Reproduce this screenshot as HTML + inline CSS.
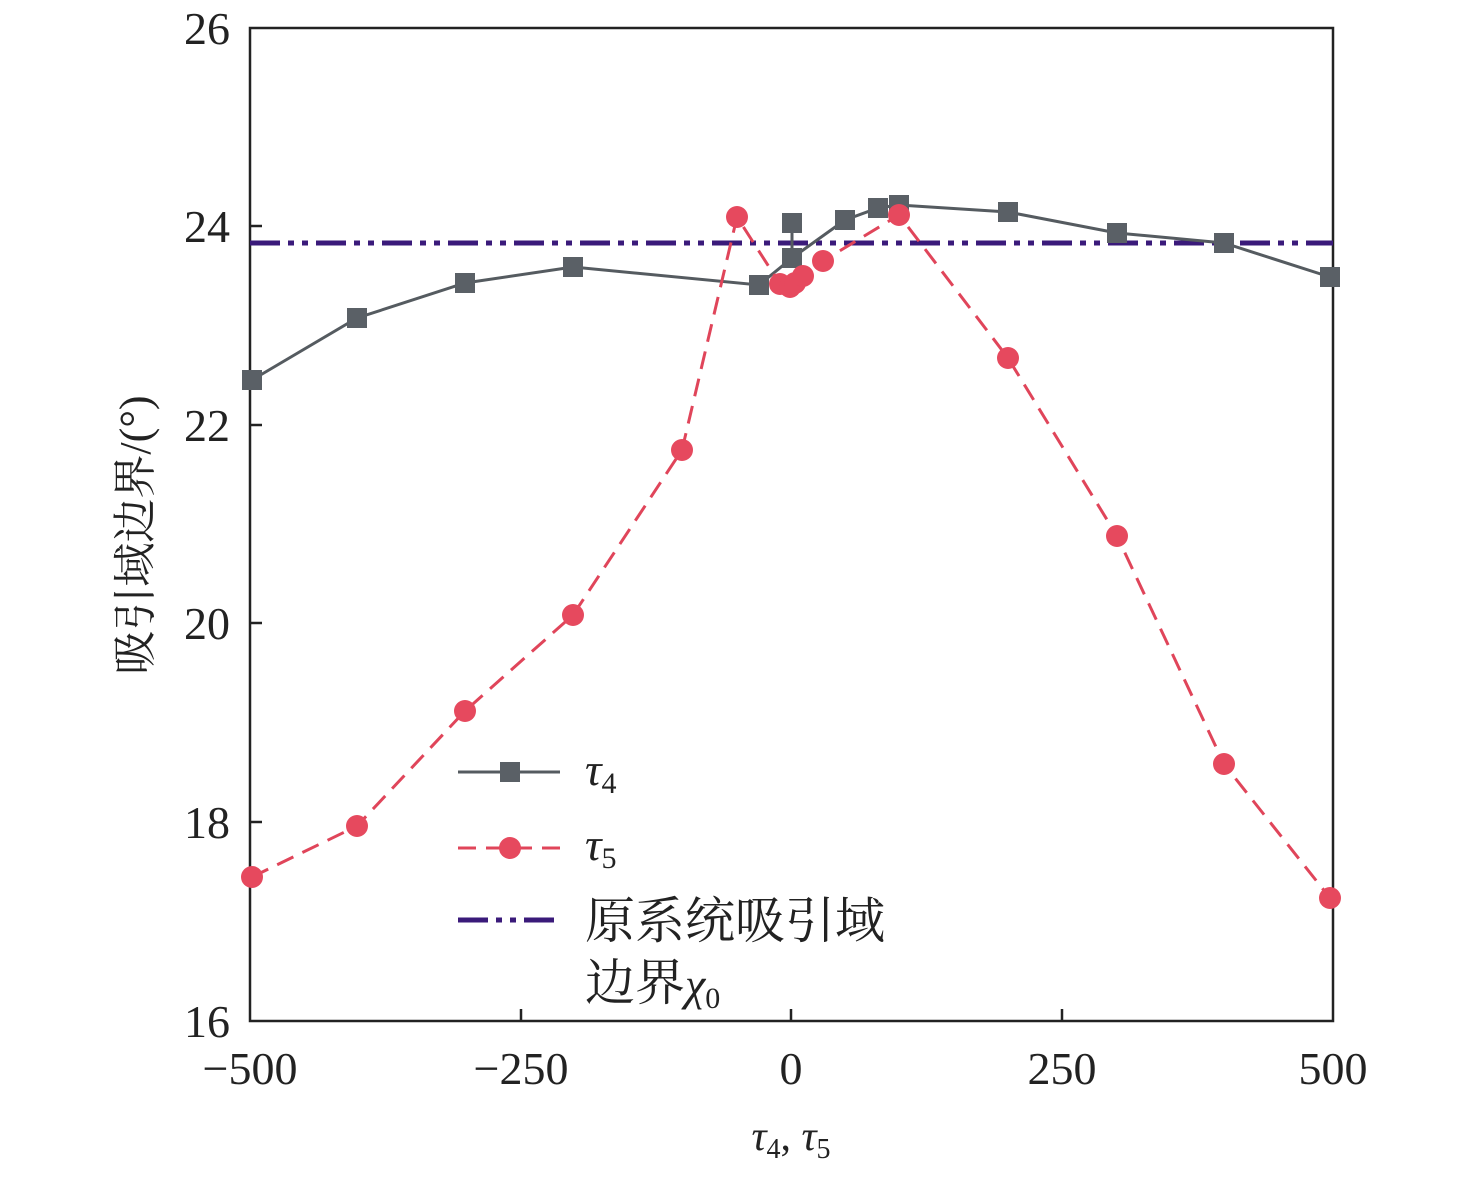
<!DOCTYPE html>
<html><head><meta charset="utf-8"><style>body{margin:0;background:#fff}</style></head><body>
<svg width="1476" height="1174" xmlns="http://www.w3.org/2000/svg" style="font-family:'Liberation Serif','Noto Serif CJK SC',serif">
<rect x="250" y="28" width="1083" height="993" fill="none" stroke="#222" stroke-width="2.5"/>
<g stroke="#222" stroke-width="2.5">
<line x1="521" y1="1021" x2="521" y2="1009"/><line x1="791" y1="1021" x2="791" y2="1009"/><line x1="1062" y1="1021" x2="1062" y2="1009"/>
<line x1="250" y1="226" x2="262" y2="226"/><line x1="250" y1="425" x2="262" y2="425"/><line x1="250" y1="623" x2="262" y2="623"/><line x1="250" y1="822" x2="262" y2="822"/>
</g>
<g font-size="46" fill="#222" text-anchor="end">
<text x="230" y="44">26</text><text x="230" y="242">24</text><text x="230" y="441">22</text><text x="230" y="639">20</text><text x="230" y="838">18</text><text x="230" y="1037">16</text>
</g>
<g font-size="46" fill="#222" text-anchor="middle">
<text x="250" y="1084">−500</text><text x="521" y="1084">−250</text><text x="791" y="1084">0</text><text x="1062" y="1084">250</text><text x="1333" y="1084">500</text>
</g>
<text x="791" y="1150" font-size="42" text-anchor="middle" fill="#222"><tspan font-style="italic">τ</tspan><tspan font-size="28" dy="8">4</tspan><tspan dy="-8">, </tspan><tspan font-style="italic">τ</tspan><tspan font-size="28" dy="8">5</tspan></text>
<text transform="translate(150,535) rotate(-90)" font-size="44" text-anchor="middle" fill="#222">吸引域边界/(°)</text>
<line x1="250" y1="243" x2="1333" y2="243" stroke="#3a1a7a" stroke-width="5" stroke-dasharray="30,8,6,8,6,8"/>
<polyline fill="none" stroke="#555b60" stroke-width="3" points="252,380 357,318 465,283 573,267 759,285 792,258 792,223 792,258 845,220 878,208 899,205 1008,212 1117,233 1224,243 1330,277"/>
<g fill="#5a6066">
<rect x="242" y="370" width="20" height="20"/><rect x="347" y="308" width="20" height="20"/><rect x="455" y="273" width="20" height="20"/><rect x="563" y="257" width="20" height="20"/><rect x="749" y="275" width="20" height="20"/><rect x="782" y="213" width="20" height="20"/><rect x="782" y="248" width="20" height="20"/><rect x="835" y="210" width="20" height="20"/><rect x="868" y="198" width="20" height="20"/><rect x="889" y="195" width="20" height="20"/><rect x="998" y="202" width="20" height="20"/><rect x="1107" y="223" width="20" height="20"/><rect x="1214" y="233" width="20" height="20"/><rect x="1320" y="267" width="20" height="20"/>
</g>
<polyline fill="none" stroke="#e0455a" stroke-width="3" stroke-dasharray="18,10" points="252,877 357,826 465,711 573,615 682,450 737,217 780,284 790,287 795,283 803,276 823,261 899,215 1008,358 1117,536 1224,764 1330,898"/>
<g fill="#e6495e">
<circle cx="252" cy="877" r="11"/><circle cx="357" cy="826" r="11"/><circle cx="465" cy="711" r="11"/><circle cx="573" cy="615" r="11"/><circle cx="682" cy="450" r="11"/><circle cx="737" cy="217" r="11"/><circle cx="780" cy="284" r="11"/><circle cx="790" cy="287" r="11"/><circle cx="795" cy="283" r="11"/><circle cx="803" cy="276" r="11"/><circle cx="823" cy="261" r="11"/><circle cx="899" cy="215" r="11"/><circle cx="1008" cy="358" r="11"/><circle cx="1117" cy="536" r="11"/><circle cx="1224" cy="764" r="11"/><circle cx="1330" cy="898" r="11"/>
</g>
<line x1="458" y1="772" x2="560" y2="772" stroke="#555b60" stroke-width="3"/><rect x="500" y="762" width="20" height="20" fill="#5a6066"/>
<line x1="458" y1="848" x2="560" y2="848" stroke="#e0455a" stroke-width="3" stroke-dasharray="18,10"/><circle cx="510" cy="848" r="11" fill="#e6495e"/>
<line x1="458" y1="920" x2="560" y2="920" stroke="#3a1a7a" stroke-width="5" stroke-dasharray="30,8,6,8,6,8"/>
<g font-size="46" fill="#222">
<text x="585" y="785" font-style="italic">τ<tspan font-size="30" dy="8" font-style="normal">4</tspan></text>
<text x="585" y="860" font-style="italic">τ<tspan font-size="30" dy="8" font-style="normal">5</tspan></text>
<text x="585" y="938" font-size="50">原系统吸引域</text>
<text x="585" y="1000" font-size="50">边界<tspan font-style="italic" font-size="46">χ</tspan><tspan font-size="30" dy="8">0</tspan></text>
</g>
</svg>
</body></html>
